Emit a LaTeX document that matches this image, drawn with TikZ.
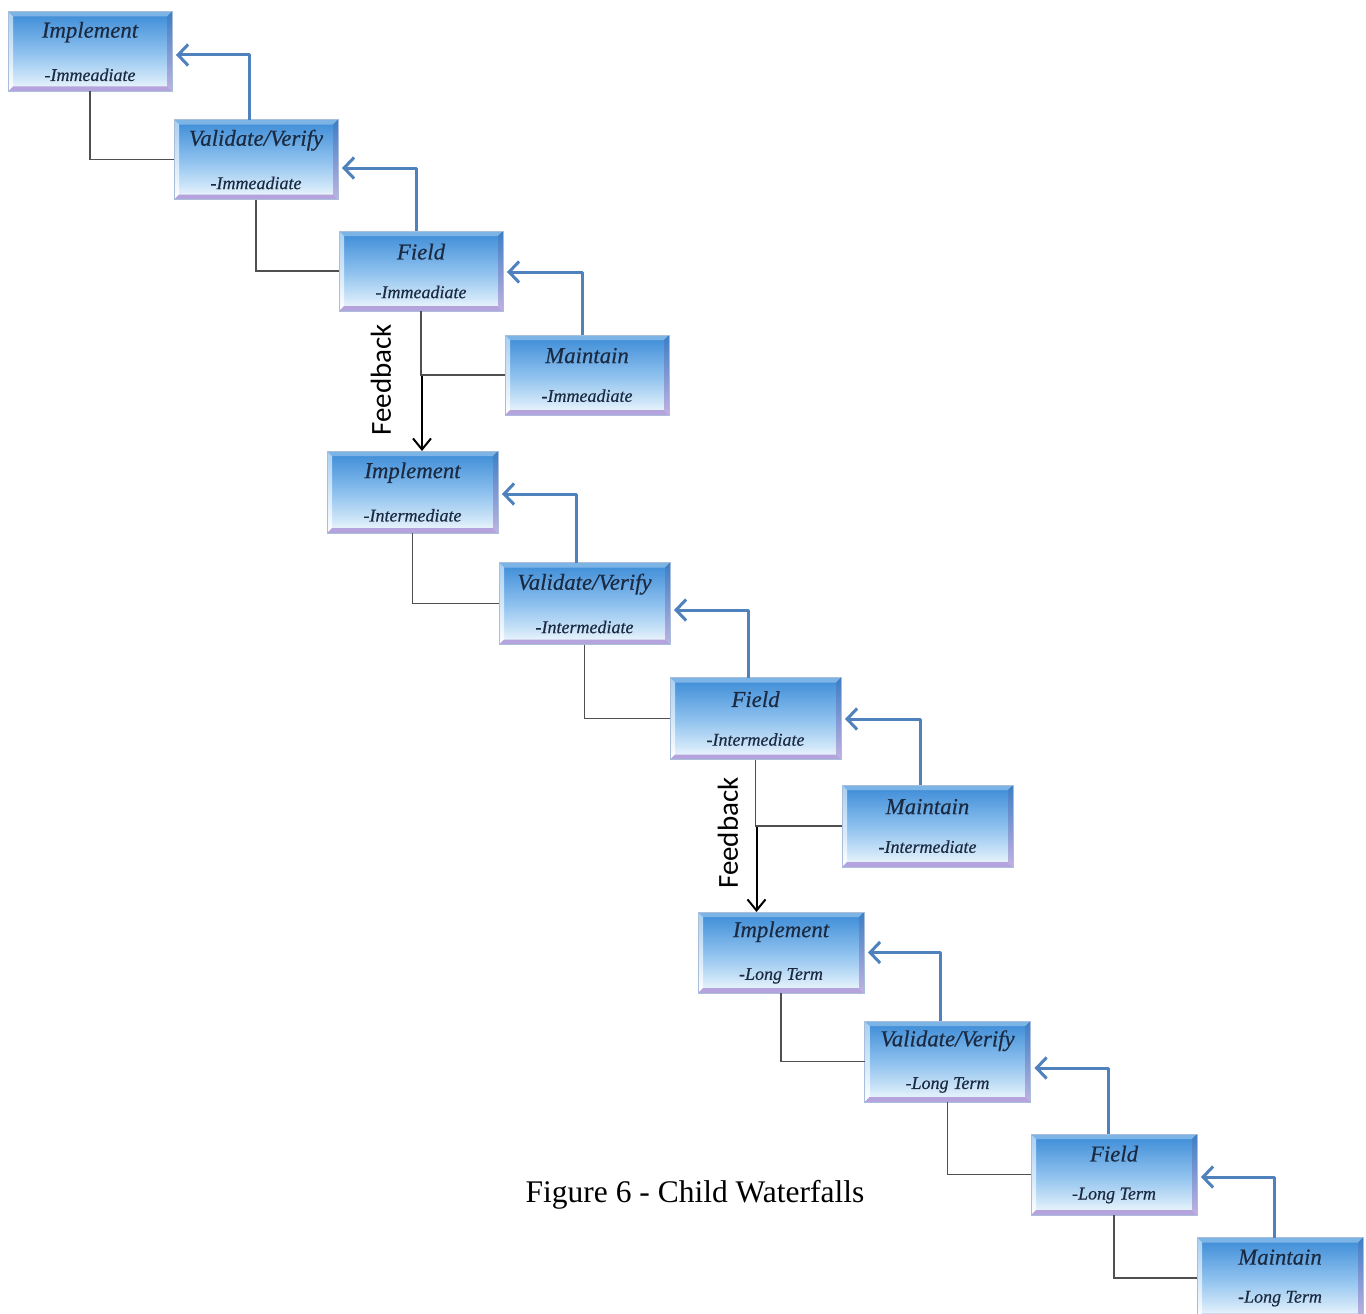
\documentclass[tikz,border=0pt]{standalone}
\usepackage{fontspec}
\setmainfont{Liberation Serif}
\newfontfamily\boxfont{Liberation Serif}[FakeBold=0.4]
\newfontfamily\fbfont{Carlito}
\usetikzlibrary{arrows.meta,calc}
\definecolor{boxtop}{HTML}{3A8AD6}
\definecolor{boxmid}{HTML}{8CC0EE}
\definecolor{boxlow}{HTML}{CFE6F8}
\definecolor{boxbot}{HTML}{F6FAFE}
\definecolor{bevtop}{HTML}{7DB4E6}
\definecolor{bevleft}{HTML}{A8CFF2}
\definecolor{bevright}{HTML}{3C7EC4}
\definecolor{bevrightlow}{HTML}{C2B2E2}
\definecolor{bevbot}{HTML}{B4A3DC}
\definecolor{boxedge}{HTML}{A9BEDA}
\definecolor{txtcol}{HTML}{1B2A41}
\definecolor{arrblue}{HTML}{4F81BD}
\definecolor{linegray}{HTML}{505050}
\pgfdeclareverticalshading{boxshade}{100bp}{color(0bp)=(boxbot); color(25bp)=(boxbot); color(33bp)=(boxlow); color(50bp)=(boxmid); color(75bp)=(boxtop); color(100bp)=(boxtop)}
\newcommand\bx[2]{{\fontsize{22.8}{22}\selectfont #1}\\[25pt]{\fontsize{18}{22}\selectfont #2}}
\tikzset{
  wbox/.style={draw=boxedge, line width=0.6pt, inner sep=0pt, outer sep=0pt,
    align=center, text=txtcol, font=\boxfont\itshape,
    path picture={
      \coordinate (pnw) at (path picture bounding box.north west);
      \coordinate (pne) at (path picture bounding box.north east);
      \coordinate (pse) at (path picture bounding box.south east);
      \coordinate (psw) at (path picture bounding box.south west);
      \shade[shading=boxshade] (pnw) rectangle (pse);
      \fill[bevtop] (pnw) -- (pne) -- ($(pne)+(-5,5)$) -- ($(pnw)+(5,5)$) -- cycle;
      \shade[top color=bevleft, bottom color=white] (pnw) -- ($(pnw)+(5,5)$) -- ($(psw)+(5,-5)$) -- (psw) -- cycle;
      \shade[top color=bevright, bottom color=bevrightlow] (pne) -- ($(pne)+(-5,5)$) -- ($(pse)+(-5,-5)$) -- (pse) -- cycle;
      \fill[bevbot] (psw) -- ($(psw)+(5,-5)$) -- ($(pse)+(-5,-5)$) -- (pse) -- cycle;
    }},
  rowa/.style={wbox, minimum width=164pt, minimum height=80pt},
  rowb/.style={wbox, minimum width=171pt, minimum height=82pt},
  rowc/.style={wbox, minimum width=166pt, minimum height=81pt},
  blueback/.style={draw=arrblue, line width=3pt, line join=round,
    -{Straight Barb[length=10pt,width=21pt]}},
  grayline/.style={draw=linegray, line width=1.7pt},
  fbarrow/.style={draw=black, line width=2pt, -{Straight Barb[length=11pt,width=18pt]}},
  fblabel/.style={rotate=90, font=\fbfont\fontsize{29}{29}\selectfont, inner sep=0pt}
}
\begin{document}
\begin{tikzpicture}[x=1pt, y=-1pt]
\fill[white] (0,0) rectangle (1366,1314);
\useasboundingbox (0,0) rectangle (1366,1314);

% Row 1 - Immediate
\node[rowa] (I1) at (90,51.5) {\bx{Implement}{-Immeadiate}};
\node[rowa] (V1) at (256,159.5) {\bx{Validate/Verify}{-Immeadiate}};
\node[rowa] (F1) at (421,271) {\bx{Field}{-Immeadiate}};
\node[rowa] (M1) at (587,375) {\bx{Maintain}{-Immeadiate}};

% Row 2 - Intermediate
\node[rowb] (I2) at (412.5,492) {\bx{Implement}{-Intermediate}};
\node[rowb] (V2) at (584.5,603.5) {\bx{Validate/Verify}{-Intermediate}};
\node[rowb] (F2) at (755.5,718.5) {\bx{Field}{-Intermediate}};
\node[rowb] (M2) at (927.5,826) {\bx{Maintain}{-Intermediate}};

% Row 3 - Long Term
\node[rowc] (I3) at (781,952.5) {\bx{Implement}{-Long Term}};
\node[rowc] (V3) at (947.5,1061.5) {\bx{Validate/Verify}{-Long Term}};
\node[rowc] (F3) at (1114,1174.5) {\bx{Field}{-Long Term}};
\node[rowc] (M3) at (1280,1278) {\bx{Maintain}{-Long Term}};

% gray step connectors
\draw[grayline] (I1.south) |- (V1.west);
\draw[grayline] (V1.south) |- (F1.west);
\draw[grayline] (F1.south) |- (M1.west);
\draw[grayline] (I2.south) |- (V2.west);
\draw[grayline] (V2.south) |- (F2.west);
\draw[grayline] (F2.south) |- (M2.west);
\draw[grayline] (I3.south) |- (V3.west);
\draw[grayline] (V3.south) |- (F3.west);
\draw[grayline] (F3.south) |- (M3.west);

% blue return arrows
\draw[blueback] ($(V1.north west)+(75,0)$) |- ($(I1.east)+(4,3.5)$);
\draw[blueback] ($(F1.north west)+(77,0)$) |- ($(V1.east)+(4,8.5)$);
\draw[blueback] ($(M1.north west)+(77,0)$) |- ($(F1.east)+(4,1)$);
\draw[blueback] ($(V2.north west)+(77,0)$) |- ($(I2.east)+(4,2)$);
\draw[blueback] ($(F2.north west)+(78,0)$) |- ($(V2.east)+(4,6.5)$);
\draw[blueback] ($(M2.north west)+(78,0)$) |- ($(F2.east)+(4,0.5)$);
\draw[blueback] ($(V3.north west)+(76,0)$) |- ($(I3.east)+(4,0)$);
\draw[blueback] ($(F3.north west)+(77,0)$) |- ($(V3.east)+(4,6.5)$);
\draw[blueback] ($(M3.north west)+(77,0)$) |- ($(F3.east)+(4,2.5)$);

% feedback arrows
\coordinate (fb1) at ($(F1.south |- M1.west)+(1,1)$);
\coordinate (fb2) at ($(F2.south |- M2.west)+(1,1)$);
\draw[fbarrow] (fb1) -- (fb1 |- I2.north);
\draw[fbarrow] (fb2) -- (fb2 |- I3.north);
\node[fblabel] (fbl1) at (381,380) {Feedback};
\node[fblabel] (fbl2) at (728,833) {Feedback};

% caption
\node (cap) at (695,1195) {\fontsize{31.5}{32}\selectfont Figure 6 - Child Waterfalls};
\end{tikzpicture}
\end{document}
